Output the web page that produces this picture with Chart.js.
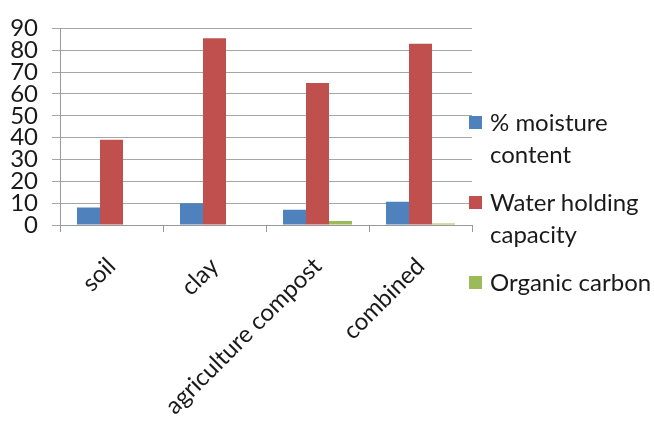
<!DOCTYPE html>
<html>
<head>
<meta charset="utf-8">
<script src="https://cdn.jsdelivr.net/npm/chart.js@4.4.1/dist/chart.umd.min.js"></script>
<style>
  html, body { margin: 0; padding: 0; background: #fff; }
  #wrap { position: relative; width: 654px; height: 423px; }
  #legend { position: absolute; left: 469px; top: 106px; font-family: Lato, sans-serif; font-size: 24px; color: #1a1a1a; }
  .item { position: relative; padding-left: 21px; line-height: 32px; margin-bottom: 16px; white-space: nowrap; }
  .box { position: absolute; left: 0; top: 10px; width: 13px; height: 13px; }
</style>
</head>
<body>
<div id="wrap">
  <canvas id="soilChart" width="654" height="423"></canvas>
  <div id="legend"></div>
</div>
<script>
const categories = ['soil', 'clay', 'agriculture compost', 'combined'];
const moisture = [8, 10, 7, 10.7];
const waterHolding = [39, 85.5, 65, 83];
const organicCarbon = [0, 0, 1.8, 0.7];
const seriesNames = [['% moisture', 'content'], ['Water holding', 'capacity'], ['Organic carbon']];
const seriesColors = ['#4F81BD', '#C0504D', '#9BBB59'];
const yTicks = [0, 10, 20, 30, 40, 50, 60, 70, 80, 90];

const fontFamily = 'Lato, sans-serif';
const ctx = document.getElementById('soilChart');

new Chart(ctx, {
  type: 'bar',
  data: {
    labels: categories,
    datasets: [moisture, waterHolding, organicCarbon].map((d, i) => ({
      label: seriesNames[i].join(' '),
      data: d,
      backgroundColor: seriesColors[i],
      borderWidth: 0,
      categoryPercentage: 0.67,
      barPercentage: 1
    }))
  },
  options: {
    responsive: false,
    animation: false,
    layout: { padding: { left: 0, right: 182, top: 17, bottom: 0 } },
    scales: {
      x: {
        grid: { drawOnChartArea: false, tickLength: 7, color: '#999' },
        border: { color: '#999' },
        ticks: { color: '#1a1a1a', font: { family: fontFamily, size: 24 }, maxRotation: 45, minRotation: 45, padding: 20 },
        afterFit: (s) => { s.height = 198; }
      },
      y: {
        min: 0,
        max: 90,
        afterBuildTicks: (s) => { s.ticks = yTicks.map(v => ({ value: v })); },
        grid: { color: '#a6a6a6', tickLength: 8 },
        border: { color: '#999' },
        ticks: { color: '#1a1a1a', font: { family: fontFamily, size: 24 }, padding: 14, autoSkip: false },
        afterFit: (s) => { s.width = 60; }
      }
    },
    plugins: {
      legend: { display: false },
      tooltip: { enabled: false }
    }
  }
});

const legend = document.getElementById('legend');
seriesNames.forEach((lines, i) => {
  const item = document.createElement('div');
  item.className = 'item';
  const box = document.createElement('span');
  box.className = 'box';
  box.style.background = seriesColors[i];
  item.appendChild(box);
  lines.forEach((t, j) => {
    if (j) item.appendChild(document.createElement('br'));
    item.appendChild(document.createTextNode(t));
  });
  legend.appendChild(item);
});
</script>
</body>
</html>
